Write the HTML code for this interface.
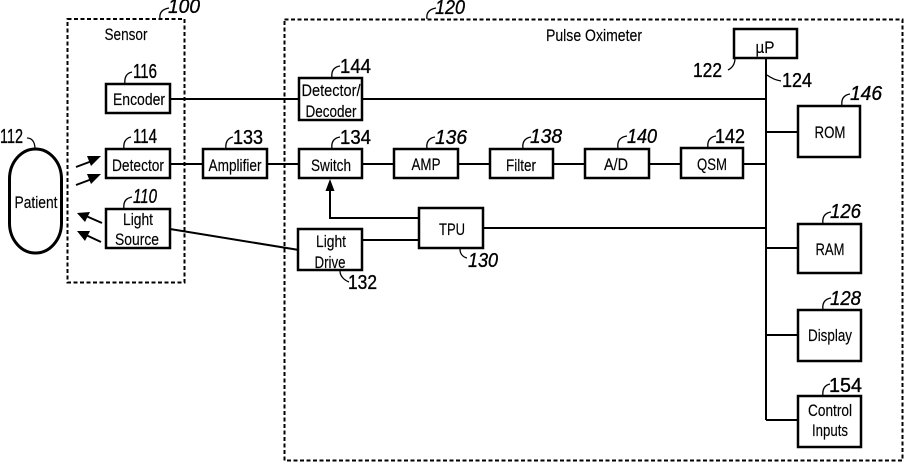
<!DOCTYPE html>
<html>
<head>
<meta charset="utf-8">
<style>
html,body{margin:0;padding:0;background:#fff;width:904px;height:463px;overflow:hidden}
svg{display:block}
.b{fill:#fff;stroke:#000;stroke-width:2.5}
.l{fill:none;stroke:#000;stroke-width:2}
.t{fill:none;stroke:#000;stroke-width:1.3}
.d{fill:none;stroke:#000;stroke-width:2;stroke-dasharray:4 2.5}
text{font-family:"Liberation Sans",sans-serif;fill:#000}
.x{font-size:17px;text-anchor:middle;stroke:#000;stroke-width:.15}
.n{font-size:20px;stroke:#000;stroke-width:.35}
.i{font-style:italic}
</style>
</head>
<body>
<svg width="904" height="463" viewBox="0 0 904 463" xmlns="http://www.w3.org/2000/svg">
<rect class="d" x="67.5" y="19" width="117" height="263.5"/>
<rect class="d" x="284.5" y="19.5" width="618" height="441"/>

<path class="l" d="M170 99H299M170 164H203M267 164H299M362 99H766M362 164H394M458 164H490M553 164H585M649 164H681M743 164H766M483 228H766M766 58V420M766 132H798M766 248H798M766 335H798M766 420H798M362 240H419M170 229L299 250"/>
<path class="l" d="M419 218H330V190"/>
<path d="M330 179L325.500 191H334.500Z" fill="#000"/>

<rect x="9.500" y="149" width="52" height="104" rx="26" ry="30" fill="#fff" stroke="#000" stroke-width="3"/>

<rect class="b" x="106" y="84" width="64" height="29"/>
<rect class="b" x="106" y="149" width="64" height="29"/>
<rect class="b" x="106" y="209" width="64" height="39"/>
<rect class="b" x="203" y="149" width="64" height="29"/>
<rect class="b" x="299" y="78" width="63" height="42"/>
<rect class="b" x="299" y="149" width="63" height="29"/>
<rect class="b" x="394" y="149" width="64" height="29"/>
<rect class="b" x="490" y="149" width="63" height="29"/>
<rect class="b" x="585" y="149" width="64" height="29"/>
<rect class="b" x="681" y="148" width="62" height="30"/>
<rect class="b" x="419" y="208" width="64" height="40"/>
<rect class="b" x="298" y="229" width="64" height="41"/>
<rect class="b" x="734" y="29" width="63" height="29"/>
<rect class="b" x="798" y="106" width="62" height="51"/>
<rect class="b" x="798" y="224" width="63" height="49"/>
<rect class="b" x="798" y="310" width="63" height="51"/>
<rect class="b" x="798" y="396" width="63" height="51"/>

<path class="l" d="M76 167L92 161M76 185L92 179M102 223L86 216M101 242L86 235"/>
<path d="M101 156L87 156L91 166ZM101 174L87 174L91 184ZM77 213L90 212L85 222ZM77 231L90 231L85 241Z" fill="#000"/>

<path class="t" d="M125 84C124 77 127 73 132 72M124 149C123 142 126 138 131 137M124 209C123 202 126 198 132 197M226 149C225 142 228 138 233 137M332 78C331 71 334 67 340 66M332 149C331 142 334 138 340 137M427 149C426 142 429 138 435 137M523 149C522 142 525 138 531 137M618 148C617 141 620 137 627 136M708 148C707 141 710 137 716 136M842 106C841 99 844 95 850 94M823 224C822 217 825 213 831 212M823 310C822 303 825 299 831 298M823 396C822 389 825 385 830 384M160 19C159 12 163 9 169 8M427 19C426 12 430 9 436 8M27 138C32 138 35 142 35 149M735 58C735 64 732 68 728 70M767 75C771 78 775 80 781 81M460 249C460 254 463 257 467 258M340 271C340 276 344 280 349 282"/>

<text class="x" x="126" y="40" textLength="43" lengthAdjust="spacingAndGlyphs">Sensor</text>
<text class="x" x="594" y="41" textLength="96" lengthAdjust="spacingAndGlyphs">Pulse Oximeter</text>
<text class="x" x="139" y="105" textLength="52" lengthAdjust="spacingAndGlyphs">Encoder</text>
<text class="x" x="138" y="171" textLength="52" lengthAdjust="spacingAndGlyphs">Detector</text>
<text class="x" x="138" y="225" textLength="30" lengthAdjust="spacingAndGlyphs">Light</text>
<text class="x" x="137" y="245" textLength="44" lengthAdjust="spacingAndGlyphs">Source</text>
<text class="x" x="235" y="171" textLength="53" lengthAdjust="spacingAndGlyphs">Amplifier</text>
<text class="x" x="331" y="96" textLength="59" lengthAdjust="spacingAndGlyphs">Detector/</text>
<text class="x" x="331" y="117" textLength="51" lengthAdjust="spacingAndGlyphs">Decoder</text>
<text class="x" x="331" y="171" textLength="40" lengthAdjust="spacingAndGlyphs">Switch</text>
<text class="x" x="426" y="170" textLength="29" lengthAdjust="spacingAndGlyphs">AMP</text>
<text class="x" x="521" y="171" textLength="30" lengthAdjust="spacingAndGlyphs">Filter</text>
<text class="x" x="616" y="170" textLength="24" lengthAdjust="spacingAndGlyphs">A/D</text>
<text class="x" x="712" y="170" textLength="30" lengthAdjust="spacingAndGlyphs">QSM</text>
<text class="x" x="452" y="235" textLength="26" lengthAdjust="spacingAndGlyphs">TPU</text>
<text class="x" x="331" y="247" textLength="30" lengthAdjust="spacingAndGlyphs">Light</text>
<text class="x" x="330" y="268" textLength="31" lengthAdjust="spacingAndGlyphs">Drive</text>
<text class="x" x="765" y="53" textLength="19" lengthAdjust="spacingAndGlyphs">µP</text>
<text class="x" x="830" y="138" textLength="31" lengthAdjust="spacingAndGlyphs">ROM</text>
<text class="x" x="830" y="255" textLength="29" lengthAdjust="spacingAndGlyphs">RAM</text>
<text class="x" x="830" y="341" textLength="44" lengthAdjust="spacingAndGlyphs">Display</text>
<text class="x" x="830" y="416" textLength="44" lengthAdjust="spacingAndGlyphs">Control</text>
<text class="x" x="830" y="436" textLength="36" lengthAdjust="spacingAndGlyphs">Inputs</text>
<text class="x" x="36" y="208" textLength="43" lengthAdjust="spacingAndGlyphs">Patient</text>

<text class="n i" x="168" y="13" textLength="32" lengthAdjust="spacingAndGlyphs">100</text>
<text class="n i" x="435" y="14" textLength="30" lengthAdjust="spacingAndGlyphs">120</text>
<text class="n" x="133" y="78" textLength="24" lengthAdjust="spacingAndGlyphs">116</text>
<text class="n" x="133" y="143" textLength="24" lengthAdjust="spacingAndGlyphs">114</text>
<text class="n i" x="133" y="203" textLength="24" lengthAdjust="spacingAndGlyphs">110</text>
<text class="n" x="233" y="144" textLength="30" lengthAdjust="spacingAndGlyphs">133</text>
<text class="n" x="340" y="73" textLength="31" lengthAdjust="spacingAndGlyphs">144</text>
<text class="n" x="340" y="144" textLength="31" lengthAdjust="spacingAndGlyphs">134</text>
<text class="n i" x="435" y="144" textLength="32" lengthAdjust="spacingAndGlyphs">136</text>
<text class="n i" x="530" y="143" textLength="32" lengthAdjust="spacingAndGlyphs">138</text>
<text class="n i" x="627" y="143" textLength="30" lengthAdjust="spacingAndGlyphs">140</text>
<text class="n" x="715" y="143" textLength="30" lengthAdjust="spacingAndGlyphs">142</text>
<text class="n i" x="850" y="100" textLength="32" lengthAdjust="spacingAndGlyphs">146</text>
<text class="n i" x="830" y="218" textLength="31" lengthAdjust="spacingAndGlyphs">126</text>
<text class="n i" x="830" y="305" textLength="31" lengthAdjust="spacingAndGlyphs">128</text>
<text class="n" x="829" y="392" textLength="33" lengthAdjust="spacingAndGlyphs">154</text>
<text class="n" x="693" y="77" textLength="29" lengthAdjust="spacingAndGlyphs">122</text>
<text class="n" x="782" y="87" textLength="30" lengthAdjust="spacingAndGlyphs">124</text>
<text class="n i" x="468" y="267" textLength="30" lengthAdjust="spacingAndGlyphs">130</text>
<text class="n" x="348" y="289" textLength="29" lengthAdjust="spacingAndGlyphs">132</text>
<text class="n" x="0" y="143" textLength="23" lengthAdjust="spacingAndGlyphs">112</text>
</svg>
</body>
</html>
